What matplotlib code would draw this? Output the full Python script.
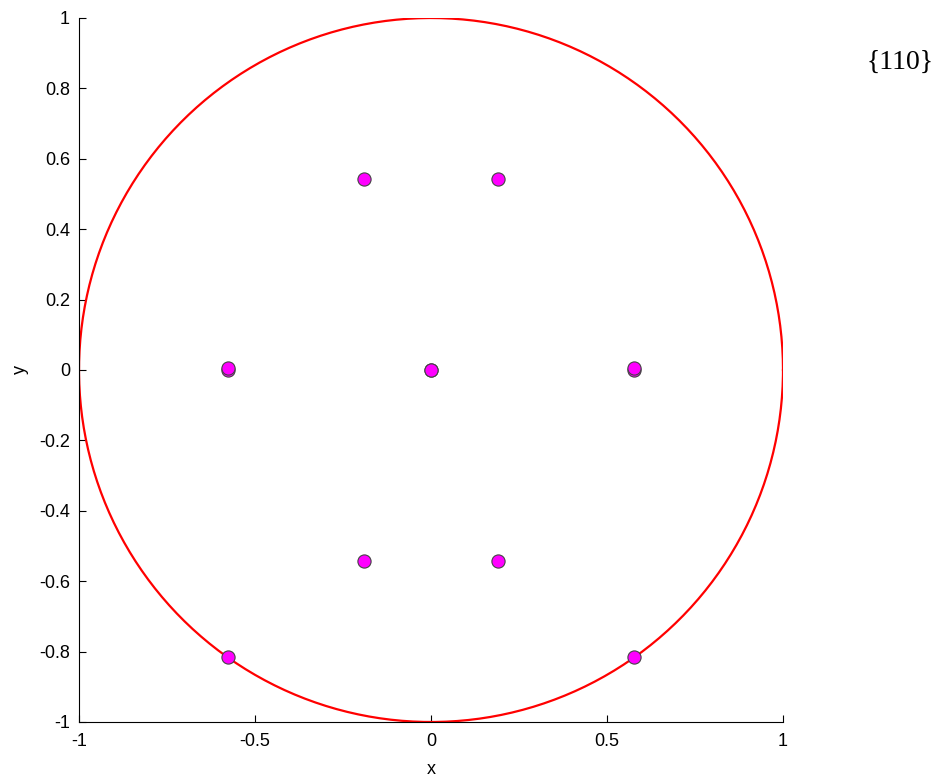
import numpy as np
import matplotlib
matplotlib.use("Agg")
import matplotlib.pyplot as plt

plt.rcParams['font.family'] = ['Liberation Sans', 'DejaVu Sans']

# Pole figure {110} projected points
px = [0.0, -0.577, 0.577, -0.19, 0.19, -0.19, 0.19, -0.577, 0.577, -0.577, 0.577, 0.0]
py = [0.0, 0.0, 0.0, 0.544, 0.544, -0.544, -0.544, -0.816, -0.816, 0.005, 0.005, 0.0]
xticks = [-1, -0.5, 0, 0.5, 1]
yticks = [-1, -0.8, -0.6, -0.4, -0.2, 0, 0.2, 0.4, 0.6, 0.8, 1]
title_text = "{110}"

fig = plt.figure(figsize=(9.45, 7.78), dpi=100)
ax = fig.add_axes([79/945, 56/778, (783-79)/945, (722-18)/778])

t = np.linspace(0, 2*np.pi, 400)
ax.plot(np.cos(t), np.sin(t), color='red', lw=1.6)
ax.plot(px, py, 'o', color='#ff00ff', mec='#444444', mew=0.8, ms=9.5, ls='none')

ax.set_xlim(-1, 1)
ax.set_ylim(-1, 1)
ax.set_xticks(xticks)
ax.set_xticklabels([f"{v:g}" for v in xticks])
ax.set_yticks(yticks)
ax.set_yticklabels([f"{v:g}" for v in yticks])
ax.tick_params(direction='in', labelsize=13, length=5, width=0.8)
ax.tick_params(axis='x', pad=8)
ax.tick_params(axis='y', pad=6.5)
for s in ['top', 'right']:
    ax.spines[s].set_visible(False)
ax.set_xlabel('x', fontsize=13, labelpad=7.5)
ax.set_ylabel('y', fontsize=13, labelpad=7)

fig.text(900/945, 1 - 62/778, title_text, family=['Liberation Serif', 'DejaVu Serif'],
         fontsize=20, ha='center', va='center')

fig.savefig('out.png', dpi=100)
